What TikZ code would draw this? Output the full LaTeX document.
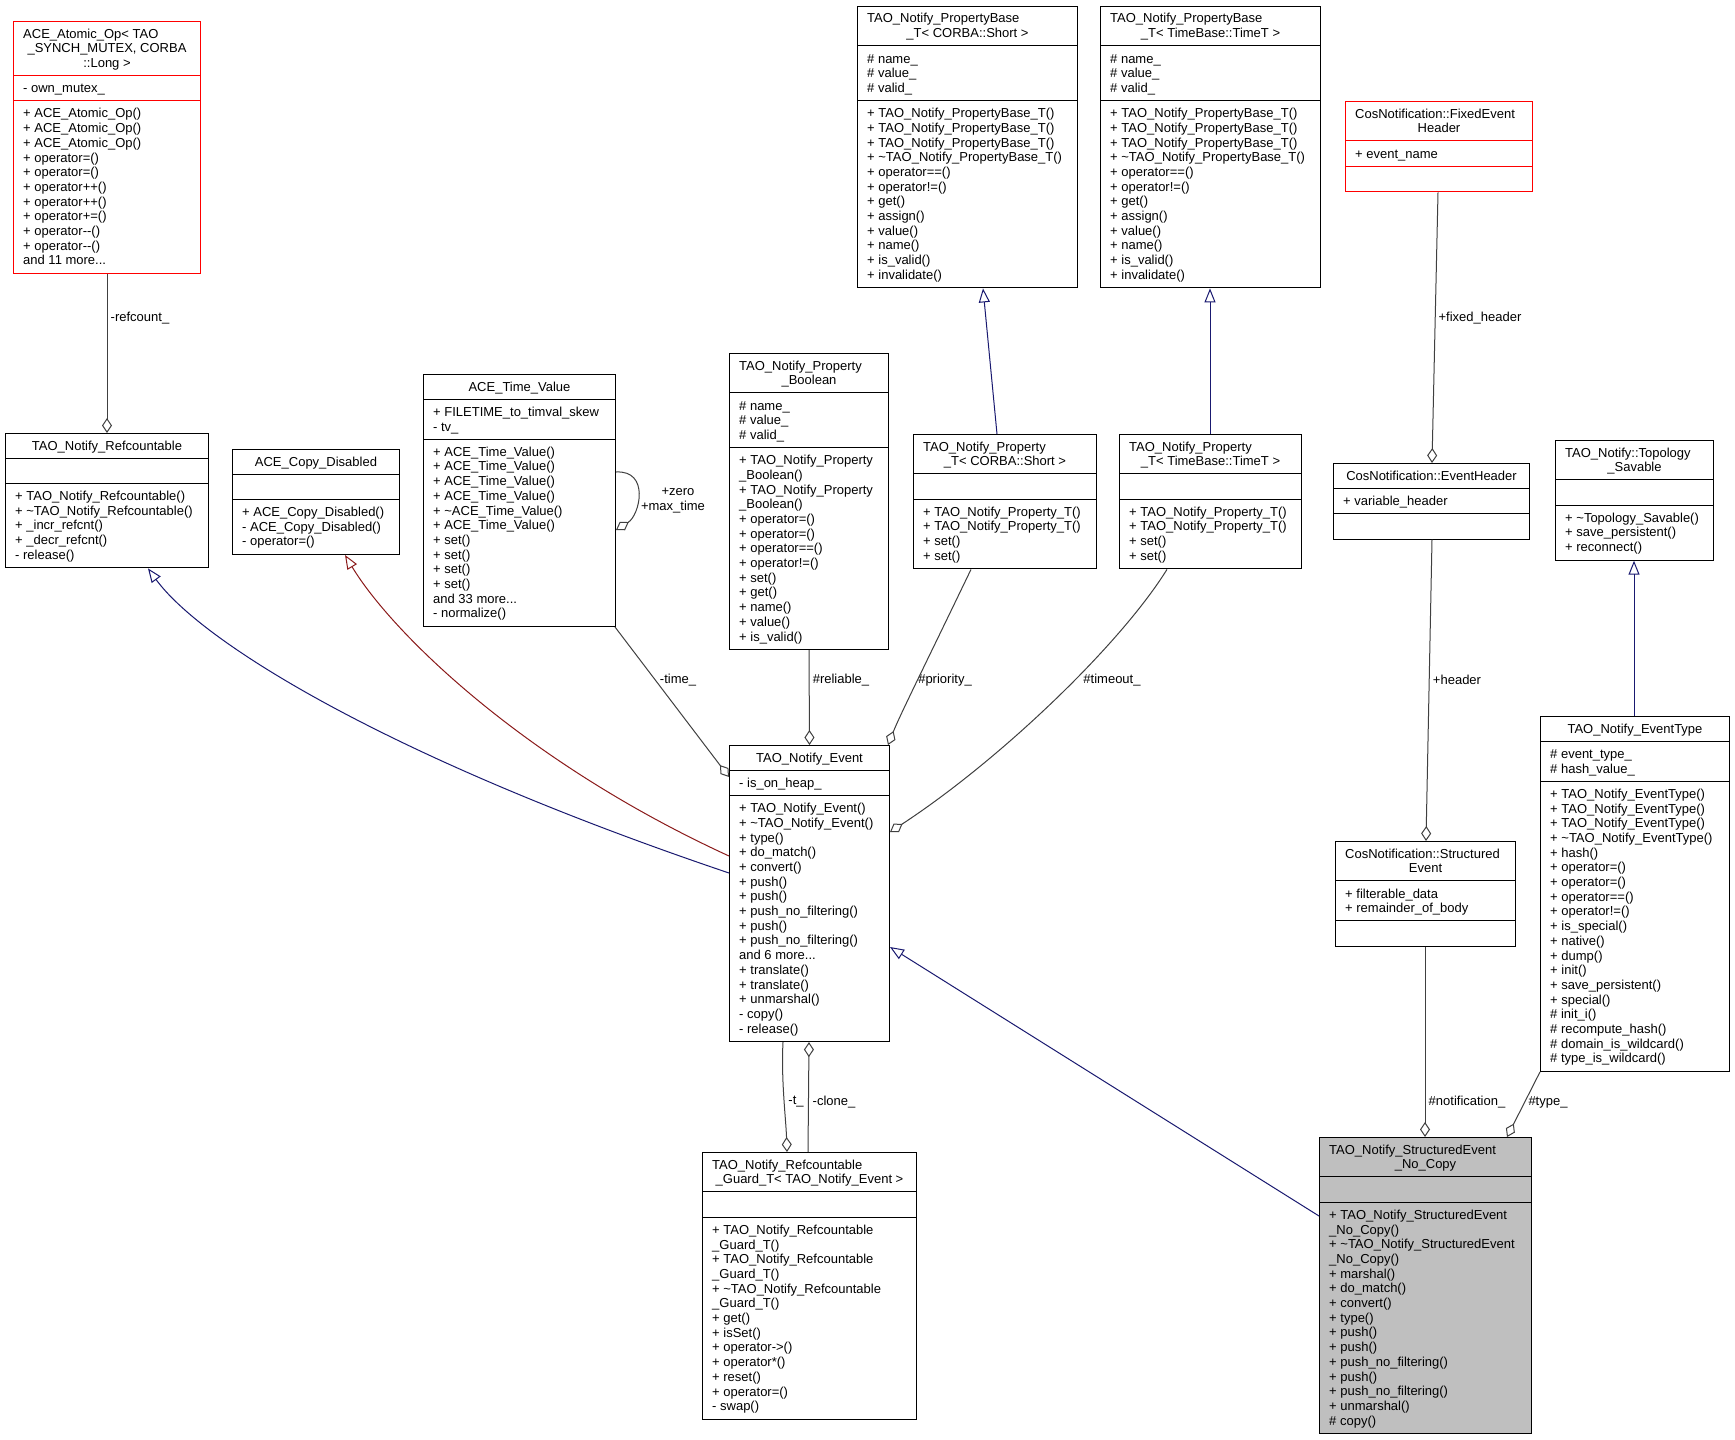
\documentclass[tikz,border=0pt]{standalone}
\usepackage{fontspec}
\setmainfont{Liberation Sans}
\usetikzlibrary{arrows.meta,calc}
\definecolor{edgegray}{HTML}{404040}
\definecolor{inhblue}{HTML}{191970}
\definecolor{inhred}{HTML}{8B1A1A}
\definecolor{boxred}{HTML}{FF0000}
\definecolor{nocopyfill}{HTML}{BFBFBF}
\newcommand\umlfs{\fontsize{13}{14.7}\selectfont}
\tikzset{
  cls/.style={draw=black, line width=1pt, anchor=north west, inner sep=0pt, fill=white},
  clsline/.style={draw=black, line width=1pt},
  txt/.style={inner sep=0pt, font=\umlfs},
  lbl/.style={inner sep=0pt, font=\umlfs},
  aggr/.style={draw=edgegray, line width=1pt, -{Diamond[open, length=15pt, width=10pt]}},
  inhb/.style={draw=inhblue, line width=1pt, -{Triangle[open, length=14pt, width=11pt]}},
  inhr/.style={draw=inhred, line width=1pt, -{Triangle[open, length=14pt, width=11pt]}}
}
\newcommand\classbox[8]{%
  \pgfmathsetmacro\hT{max(#5,1)*14.7+10.5}%
  \pgfmathsetmacro\hA{max(#6,1)*14.7+10.5}%
  \pgfmathsetmacro\hM{max(#7,1)*14.7+10.5}%
  \pgfmathsetmacro\hTA{\hT+\hA}%
  \pgfmathsetmacro\hH{\hTA+\hM}%
  \node[cls,#8,minimum width=#4pt,minimum height=\hH pt] (#1) at (#2,-#3) {};
  \coordinate (#1-a) at ([yshift=-\hT pt]#1.north west);
  \coordinate (#1-m) at ([yshift=-\hTA pt]#1.north west);
  \draw[clsline,#8] (#1-a) -- (#1-a -| #1.east);
  \draw[clsline,#8] (#1-m) -- (#1-m -| #1.east);
}
\newcommand\titleone[2]{\node[txt,anchor=base] (#1-tt) at ([yshift=-17pt]#1.north) {#2};}
\newcommand\titletwo[3]{%
  \node[txt,anchor=base west] (#1-tt) at ([xshift=10pt,yshift=-17pt]#1.north west) {#2};
  \node[txt,anchor=north,align=center] (#1-tr) at ([yshift=-21.4pt]#1.north) {\strut #3};}
\newcommand\sect[3]{\node[txt,anchor=north west,align=left] (#1) at ([xshift=10pt,yshift=-6.7pt]#2) {\strut #3};}
\begin{document}
\begin{tikzpicture}[x=1pt,y=1pt]
\fill[white] (0,0) rectangle (1735,-1440);
\useasboundingbox (0,0) rectangle (1735,-1440);

% ---------- classes ----------
\classbox{atomic}{13}{21}{187}{3}{1}{11}{draw=boxred}
\titletwo{atomic}{ACE\_Atomic\_Op< TAO}{\_SYNCH\_MUTEX, CORBA\\::Long >}
\sect{atomic-at}{atomic-a}{- own\_mutex\_}
\sect{atomic-mt}{atomic-m}{+ ACE\_Atomic\_Op()\\+ ACE\_Atomic\_Op()\\+ ACE\_Atomic\_Op()\\+ operator=()\\+ operator=()\\+ operator++()\\+ operator++()\\+ operator+=()\\+ operator-{}-()\\+ operator-{}-()\\and 11 more...}

\classbox{refc}{5}{433}{203}{1}{0}{5}{}
\titleone{refc}{TAO\_Notify\_Refcountable}
\sect{refc-mt}{refc-m}{+ TAO\_Notify\_Refcountable()\\+ \textasciitilde TAO\_Notify\_Refcountable()\\+ \_incr\_refcnt()\\+ \_decr\_refcnt()\\- release()}

\classbox{copyd}{232}{449}{167}{1}{0}{3}{}
\titleone{copyd}{ACE\_Copy\_Disabled}
\sect{copyd-mt}{copyd-m}{+ ACE\_Copy\_Disabled()\\- ACE\_Copy\_Disabled()\\- operator=()}

\classbox{timev}{423}{374}{192}{1}{2}{12}{}
\titleone{timev}{ACE\_Time\_Value}
\sect{timev-at}{timev-a}{+ FILETIME\_to\_timval\_skew\\- tv\_}
\sect{timev-mt}{timev-m}{+ ACE\_Time\_Value()\\+ ACE\_Time\_Value()\\+ ACE\_Time\_Value()\\+ ACE\_Time\_Value()\\+ \textasciitilde ACE\_Time\_Value()\\+ ACE\_Time\_Value()\\+ set()\\+ set()\\+ set()\\+ set()\\and 33 more...\\- normalize()}

\classbox{pbool}{729}{353}{159}{2}{3}{13}{}
\titletwo{pbool}{TAO\_Notify\_Property}{\_Boolean}
\sect{pbool-at}{pbool-a}{\# name\_\\\# value\_\\\# valid\_}
\sect{pbool-mt}{pbool-m}{+ TAO\_Notify\_Property\\\_Boolean()\\+ TAO\_Notify\_Property\\\_Boolean()\\+ operator=()\\+ operator=()\\+ operator==()\\+ operator!=()\\+ set()\\+ get()\\+ name()\\+ value()\\+ is\_valid()}

\classbox{pbaseS}{857}{6}{220}{2}{3}{12}{}
\titletwo{pbaseS}{TAO\_Notify\_PropertyBase}{\_T< CORBA::Short >}
\sect{pbaseS-at}{pbaseS-a}{\# name\_\\\# value\_\\\# valid\_}
\sect{pbaseS-mt}{pbaseS-m}{+ TAO\_Notify\_PropertyBase\_T()\\+ TAO\_Notify\_PropertyBase\_T()\\+ TAO\_Notify\_PropertyBase\_T()\\+ \textasciitilde TAO\_Notify\_PropertyBase\_T()\\+ operator==()\\+ operator!=()\\+ get()\\+ assign()\\+ value()\\+ name()\\+ is\_valid()\\+ invalidate()}

\classbox{pbaseT}{1100}{6}{220}{2}{3}{12}{}
\titletwo{pbaseT}{TAO\_Notify\_PropertyBase}{\_T< TimeBase::TimeT >}
\sect{pbaseT-at}{pbaseT-a}{\# name\_\\\# value\_\\\# valid\_}
\sect{pbaseT-mt}{pbaseT-m}{+ TAO\_Notify\_PropertyBase\_T()\\+ TAO\_Notify\_PropertyBase\_T()\\+ TAO\_Notify\_PropertyBase\_T()\\+ \textasciitilde TAO\_Notify\_PropertyBase\_T()\\+ operator==()\\+ operator!=()\\+ get()\\+ assign()\\+ value()\\+ name()\\+ is\_valid()\\+ invalidate()}

\classbox{propS}{913}{434}{183}{2}{0}{4}{}
\titletwo{propS}{TAO\_Notify\_Property}{\_T< CORBA::Short >}
\sect{propS-mt}{propS-m}{+ TAO\_Notify\_Property\_T()\\+ TAO\_Notify\_Property\_T()\\+ set()\\+ set()}

\classbox{propT}{1119}{434}{182}{2}{0}{4}{}
\titletwo{propT}{TAO\_Notify\_Property}{\_T< TimeBase::TimeT >}
\sect{propT-mt}{propT-m}{+ TAO\_Notify\_Property\_T()\\+ TAO\_Notify\_Property\_T()\\+ set()\\+ set()}

\classbox{fixedh}{1345}{101}{187}{2}{1}{0}{draw=boxred}
\titletwo{fixedh}{CosNotification::FixedEvent}{Header}
\sect{fixedh-at}{fixedh-a}{+ event\_name}

\classbox{evh}{1333}{463}{196}{1}{1}{0}{}
\titleone{evh}{CosNotification::EventHeader}
\sect{evh-at}{evh-a}{+ variable\_header}

\classbox{topo}{1555}{440}{158}{2}{0}{3}{}
\titletwo{topo}{TAO\_Notify::Topology}{\_Savable}
\sect{topo-mt}{topo-m}{+ \textasciitilde Topology\_Savable()\\+ save\_persistent()\\+ reconnect()}

\classbox{evtype}{1540}{716}{189}{1}{2}{19}{}
\titleone{evtype}{TAO\_Notify\_EventType}
\sect{evtype-at}{evtype-a}{\# event\_type\_\\\# hash\_value\_}
\sect{evtype-mt}{evtype-m}{+ TAO\_Notify\_EventType()\\+ TAO\_Notify\_EventType()\\+ TAO\_Notify\_EventType()\\+ \textasciitilde TAO\_Notify\_EventType()\\+ hash()\\+ operator=()\\+ operator=()\\+ operator==()\\+ operator!=()\\+ is\_special()\\+ native()\\+ dump()\\+ init()\\+ save\_persistent()\\+ special()\\\# init\_i()\\\# recompute\_hash()\\\# domain\_is\_wildcard()\\\# type\_is\_wildcard()}

\classbox{sev}{1335}{841}{180}{2}{2}{0}{}
\titletwo{sev}{CosNotification::Structured}{Event}
\sect{sev-at}{sev-a}{+ filterable\_data\\+ remainder\_of\_body}

\classbox{nocopy}{1319}{1137}{212}{2}{0}{15}{fill=nocopyfill}
\titletwo{nocopy}{TAO\_Notify\_StructuredEvent}{\_No\_Copy}
\sect{nocopy-mt}{nocopy-m}{+ TAO\_Notify\_StructuredEvent\\\_No\_Copy()\\+ \textasciitilde TAO\_Notify\_StructuredEvent\\\_No\_Copy()\\+ marshal()\\+ do\_match()\\+ convert()\\+ type()\\+ push()\\+ push()\\+ push\_no\_filtering()\\+ push()\\+ push\_no\_filtering()\\+ unmarshal()\\\# copy()}

\classbox{event}{729}{745}{160}{1}{1}{16}{}
\titleone{event}{TAO\_Notify\_Event}
\sect{event-at}{event-a}{- is\_on\_heap\_}
\sect{event-mt}{event-m}{+ TAO\_Notify\_Event()\\+ \textasciitilde TAO\_Notify\_Event()\\+ type()\\+ do\_match()\\+ convert()\\+ push()\\+ push()\\+ push\_no\_filtering()\\+ push()\\+ push\_no\_filtering()\\and 6 more...\\+ translate()\\+ translate()\\+ unmarshal()\\- copy()\\- release()}

\classbox{guard}{702}{1152}{214}{2}{0}{13}{}
\titletwo{guard}{TAO\_Notify\_Refcountable}{\_Guard\_T< TAO\_Notify\_Event >}
\sect{guard-mt}{guard-m}{+ TAO\_Notify\_Refcountable\\\_Guard\_T()\\+ TAO\_Notify\_Refcountable\\\_Guard\_T()\\+ \textasciitilde TAO\_Notify\_Refcountable\\\_Guard\_T()\\+ get()\\+ isSet()\\+ operator->()\\+ operator*()\\+ reset()\\+ operator=()\\- swap()}

% ---------- connectors ----------
\draw[aggr] (atomic.south) -- (refc.north);
\node[lbl] (l-refcount) at (140,-318) {-refcount\_};

\draw[inhb] ([yshift=-128pt]event.north west) .. controls (380,-755) and (200,-640) .. ([xshift=143pt]refc.south west);
\draw[inhr] ([yshift=-111pt]event.north west) .. controls (520,-760) and (390,-630) .. ([xshift=113pt]copyd.south west);

\draw[aggr] ([xshift=-1pt]timev.south east) -- ([yshift=-32pt]event.north west);
\node[lbl] (l-time) at (678,-680) {-time\_};

\draw[aggr] ([yshift=-98pt]timev.north east) .. controls (650,-470) and (640,-515) .. ([yshift=-156pt]timev.north east);
\node[lbl] (l-zero) at (678,-492) {+zero};
\node[lbl] (l-max) at (673,-507) {+max\_time};

\draw[aggr] (pbool.south) -- (event.north);
\node[lbl] (l-rel) at (841,-680) {\#reliable\_};

\draw[aggr] ([xshift=58pt]propS.south west) .. controls (925,-665) and (900,-715) .. ([xshift=-2pt]event.north east);
\node[lbl] (l-prio) at (945,-680) {\#priority\_};

\draw[aggr] ([xshift=48pt]propT.south west) .. controls (1120,-645) and (1000,-760) .. ([yshift=-87pt]event.north east);
\node[lbl] (l-timeout) at (1112,-680) {\#timeout\_};

\draw[inhb] ([xshift=84pt]propS.north west) -- ([xshift=126pt]pbaseS.south west);
\draw[inhb] ([xshift=91pt]propT.north west) -- ([xshift=110pt]pbaseT.south west);

\draw[aggr] ([xshift=93pt]fixedh.south west) -- ([xshift=99pt]evh.north west);
\node[lbl] (l-fixed) at (1480,-318) {+fixed\_header};

\draw[aggr] ([xshift=99pt]evh.south west) -- ([xshift=91pt]sev.north west);
\node[lbl] (l-header) at (1457,-680) {+header};

\draw[aggr] ([xshift=90pt]sev.south west) -- ([xshift=106pt]nocopy.north west);
\node[lbl] (l-notif) at (1467,-1102) {\#notification\_};

\draw[aggr] (evtype.south west) -- ([xshift=188pt]nocopy.north west);
\node[lbl] (l-type) at (1548,-1102) {\#type\_};

\draw[inhb] ([xshift=94pt]evtype.north west) -- ([xshift=79pt]topo.south west);

\draw[inhb] ([yshift=-79pt]nocopy.north west) -- ([yshift=-202pt]event.north east);

\draw[aggr] ([xshift=54pt]event.south west) .. controls (781,-1080) and (786,-1120) .. ([xshift=85pt]guard.north west);
\node[lbl] (l-t) at (796,-1102) {-t\_};
\draw[aggr] ([xshift=106pt]guard.north west) -- ([xshift=80pt]event.south west);
\node[lbl] (l-clone) at (834,-1102) {-clone\_};
\end{tikzpicture}
\end{document}
